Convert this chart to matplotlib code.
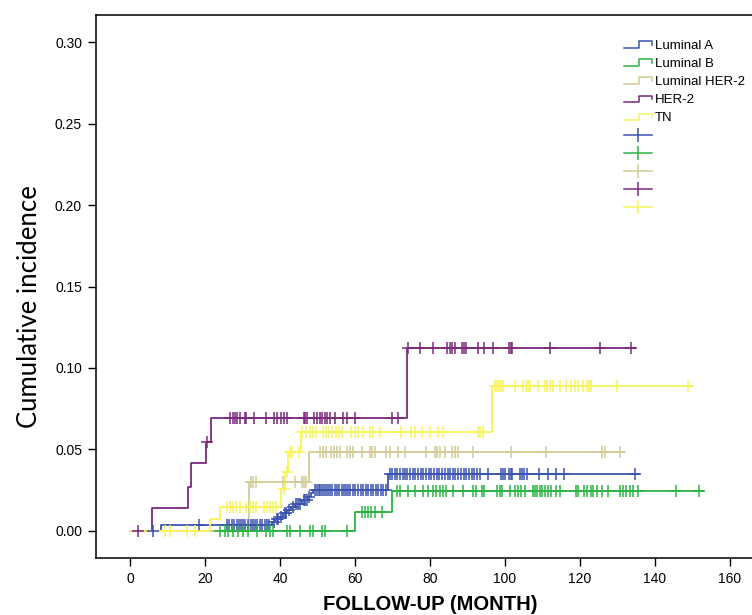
import numpy as np
import matplotlib
matplotlib.use("Agg")
import matplotlib.pyplot as plt
from matplotlib.lines import Line2D
from matplotlib.legend_handler import HandlerBase

plt.rcParams["font.family"] = ["Liberation Sans", "DejaVu Sans"]

# ---- data (months, cumulative incidence) ----
groups = ["Luminal A", "Luminal B", "Luminal HER-2", "HER-2", "TN"]
colors = ["#3b54ad", "#2cb544", "#d3cb96", "#7c2a7e", "#f7f35b"]

lumA_event_t = [8.4, 38.0, 38.8, 39.6, 40.9, 42.0, 43.0, 44.0, 46.0, 47.5, 48.3, 48.9, 68.9]
lumA_event_y = [0.0034, 0.0051, 0.0068, 0.0085, 0.0106, 0.0126, 0.0146, 0.0166, 0.0187,
                0.0208, 0.0228, 0.0249, 0.0347]
lumA_censor = [6.0, 18.5, 25.8, 26.5, 27.2, 27.8, 28.5, 29.0, 29.6, 30.2, 30.8, 31.5, 32.2,
               32.8, 33.4, 34.0, 34.7, 35.3, 36.0, 36.6, 37.2, 38.3, 39.1, 39.5, 40.2, 41.3,
               41.7, 42.4, 43.4, 44.4, 44.8, 45.3, 46.3, 46.8, 47.2, 47.8, 49.3, 49.8, 50.3,
               50.8, 51.3, 51.8, 52.3, 52.8, 53.4, 54.0, 54.6, 55.2, 55.8, 56.5, 57.0, 57.6,
               58.2, 58.8, 59.5, 60.1, 60.8, 61.5, 62.2, 62.9, 63.5, 64.2, 64.9, 65.5, 66.2,
               66.9, 67.6, 68.3, 69.4, 70.0, 70.6, 71.3, 72.0, 72.7, 73.3, 74.0, 74.7, 75.4,
               76.1, 76.8, 77.5, 78.2, 79.0, 79.7, 80.4, 81.1, 81.8, 82.5, 83.2, 84.0, 84.7,
               85.4, 86.1, 86.8, 87.5, 88.2, 89.0, 89.7, 90.4, 91.1, 91.8, 92.5, 93.3, 95.5,
               99.0, 99.5, 100.0, 101.0, 101.5, 102.0, 104.0, 104.6, 105.2, 106.0, 109.0,
               111.5, 113.5, 115.7, 134.7]
lumA_end = 135.7

lumB_event_t = [60.0, 69.8]
lumB_event_y = [0.0116, 0.0243]
lumB_censor = [24.0, 25.3, 26.2, 27.6, 28.9, 30.2, 31.6, 33.8, 36.4, 37.3, 38.2, 41.8, 42.7,
               45.3, 48.0, 48.7, 51.1, 52.0, 57.8, 61.8, 62.7, 63.6, 64.4, 65.3, 67.1, 71.1,
               72.0, 74.2, 76.0, 78.2, 79.6, 80.8, 81.7, 82.6, 83.5, 84.4, 86.2, 88.9, 91.5,
               92.4, 93.8, 94.4, 98.0, 98.6, 99.2, 101.3, 102.7, 103.5, 104.3, 105.3, 107.5,
               108.0, 108.6, 109.3, 110.0, 110.8, 111.6, 112.4, 113.5, 114.7, 119.0, 119.6,
               121.0, 122.0, 122.9, 123.5, 124.5, 126.0, 127.5, 130.7, 131.5, 132.3, 133.3,
               134.2, 135.5, 145.6, 151.7]
lumB_end = 152.8

lumH_event_t = [31.7, 47.8]
lumH_event_y = [0.0296, 0.0484]
lumH_censor = [32.2, 32.8, 33.6, 40.9, 44.0, 46.0, 46.5, 47.0, 50.7, 51.5, 52.3, 53.5, 54.3,
               55.1, 56.0, 57.8, 58.6, 59.5, 61.8, 64.0, 64.6, 65.3, 68.4, 69.3, 71.5, 73.3,
               79.0, 81.3, 82.0, 82.7, 84.0, 86.0, 86.8, 87.5, 91.5, 101.5, 111.0, 125.9,
               126.7, 130.7]
lumH_end = 131.7

her2_event_t = [5.8, 15.4, 16.4, 20.3, 21.5, 73.8]
her2_event_y = [0.0136, 0.0269, 0.0413, 0.0546, 0.0693, 0.1122]
her2_censor = [2.2, 20.6, 26.7, 27.5, 28.0, 28.6, 29.3, 30.7, 31.0, 33.0, 36.4, 38.4, 39.1,
               40.4, 41.0, 41.8, 46.4, 46.8, 47.1, 49.0, 49.8, 50.7, 51.3, 52.0, 52.6, 53.3,
               54.7, 56.7, 57.9, 60.0, 70.0, 71.5, 74.2, 77.3, 80.8, 84.5, 85.3, 86.0, 86.7,
               88.5, 89.0, 89.6, 92.8, 94.4, 96.7, 101.0, 101.5, 102.0, 112.0, 125.3, 133.6]
her2_end = 134.7

tn_event_t = [21.4, 24.0, 40.2, 41.3, 42.2, 45.5, 96.5]
tn_event_y = [0.0068, 0.0146, 0.0253, 0.0361, 0.048, 0.0604, 0.089]
tn_censor = [9.3, 10.7, 15.1, 17.3, 26.0, 26.8, 27.6, 28.4, 29.3, 31.0, 31.9, 32.8, 33.7,
             35.8, 36.6, 37.4, 38.2, 38.9, 41.0, 42.0, 42.8, 43.3, 45.2, 46.0, 47.0, 48.0,
             48.8, 49.6, 51.5, 52.3, 53.1, 54.0, 54.9, 55.7, 56.5, 59.0, 60.0, 60.8, 62.1,
             64.0, 64.8, 66.7, 72.4, 75.0, 76.0, 77.8, 80.0, 82.1, 83.5, 92.8, 93.3, 94.1,
             97.3, 97.8, 98.4, 99.0, 99.5, 102.7, 104.9, 105.5, 106.2, 106.7, 108.8, 110.7,
             111.3, 112.0, 112.8, 114.7, 116.3, 117.5, 118.6, 119.6, 120.9, 122.0, 122.5,
             123.0, 130.0, 148.7]
tn_end = 149.8

series = [
    (lumA_event_t, lumA_event_y, lumA_censor, lumA_end),
    (lumB_event_t, lumB_event_y, lumB_censor, lumB_end),
    (lumH_event_t, lumH_event_y, lumH_censor, lumH_end),
    (her2_event_t, her2_event_y, her2_censor, her2_end),
    (tn_event_t, tn_event_y, tn_censor, tn_end),
]

x_ticks = [0, 20, 40, 60, 80, 100, 120, 140, 160]
y_ticks = [0.00, 0.05, 0.10, 0.15, 0.20, 0.25, 0.30]


class StepHandler(HandlerBase):
    """Little step glyph, like the SPSS legend."""

    def create_artists(self, legend, orig_handle, xdescent, ydescent,
                       width, height, fontsize, trans):
        xs = np.array([0, 0.55, 0.55, 1.0, 1.0]) * width - xdescent
        ys = np.array([0.15, 0.15, 0.85, 0.85, 0.45]) * height - ydescent
        ln = Line2D(xs, ys, color=orig_handle.get_color(), lw=1.1)
        ln.set_transform(trans)
        return [ln]


fig = plt.figure(figsize=(7.52, 6.15), dpi=100)
ax = fig.add_axes([96 / 752, 57.3 / 615, 1 - 96 / 752, (557.7 - 15) / 615])

for (ev_t, ev_y, cens, end), color in zip(series, colors):
    xs = [0] + list(ev_t) + [end]
    ys = [0] + list(ev_y) + [ev_y[-1]]
    ax.step(xs, ys, where="post", color=color, lw=1.3, zorder=2)
    idx = np.searchsorted(ev_t, cens, side="right")
    cy = np.concatenate([[0.0], ev_y])[idx]
    ax.plot(cens, cy, linestyle="none", marker="+", markersize=9,
            markeredgewidth=1.1, color=color, zorder=3)

ax.set_xlim(-9.07, 165.9)
ax.set_ylim(-0.0167, 0.3169)
ax.set_xticks(x_ticks)
ax.set_yticks(y_ticks)
ax.set_yticklabels([f"{v:.2f}" for v in y_ticks])
ax.tick_params(direction="out", length=6, width=1, labelsize=10, pad=4)
ax.spines["right"].set_visible(False)
for s in ("left", "bottom", "top"):
    ax.spines[s].set_linewidth(1.1)

fig.text(30 / 752, 1 - 307 / 615, "Cumulative incidence", rotation=90,
         ha="center", va="center", fontsize=18.5, family=["Lato", "DejaVu Sans"])
fig.text(430 / 752, 1 - 605 / 615, "FOLLOW-UP (MONTH)", ha="center", va="center",
         fontsize=14.5, fontweight="bold",
         family=["Liberation Sans Narrow", "Liberation Sans", "DejaVu Sans"])

step_handles = [Line2D([], [], color=c) for c in colors]
cross_handles = [Line2D([], [], color=c, lw=1.1, marker="|", markersize=10,
                        markeredgewidth=1.1) for c in colors]
leg = fig.legend(step_handles + cross_handles, groups + [""] * 5,
                 loc="upper left", bbox_to_anchor=(624 / 752, 1 - 40 / 615),
                 frameon=False, fontsize=9.5, labelspacing=0.44, handlelength=2.1,
                 handletextpad=0.25, borderpad=0, borderaxespad=0, numpoints=1,
                 handler_map={h: StepHandler() for h in step_handles})

fig.savefig("out.png", dpi=100)
